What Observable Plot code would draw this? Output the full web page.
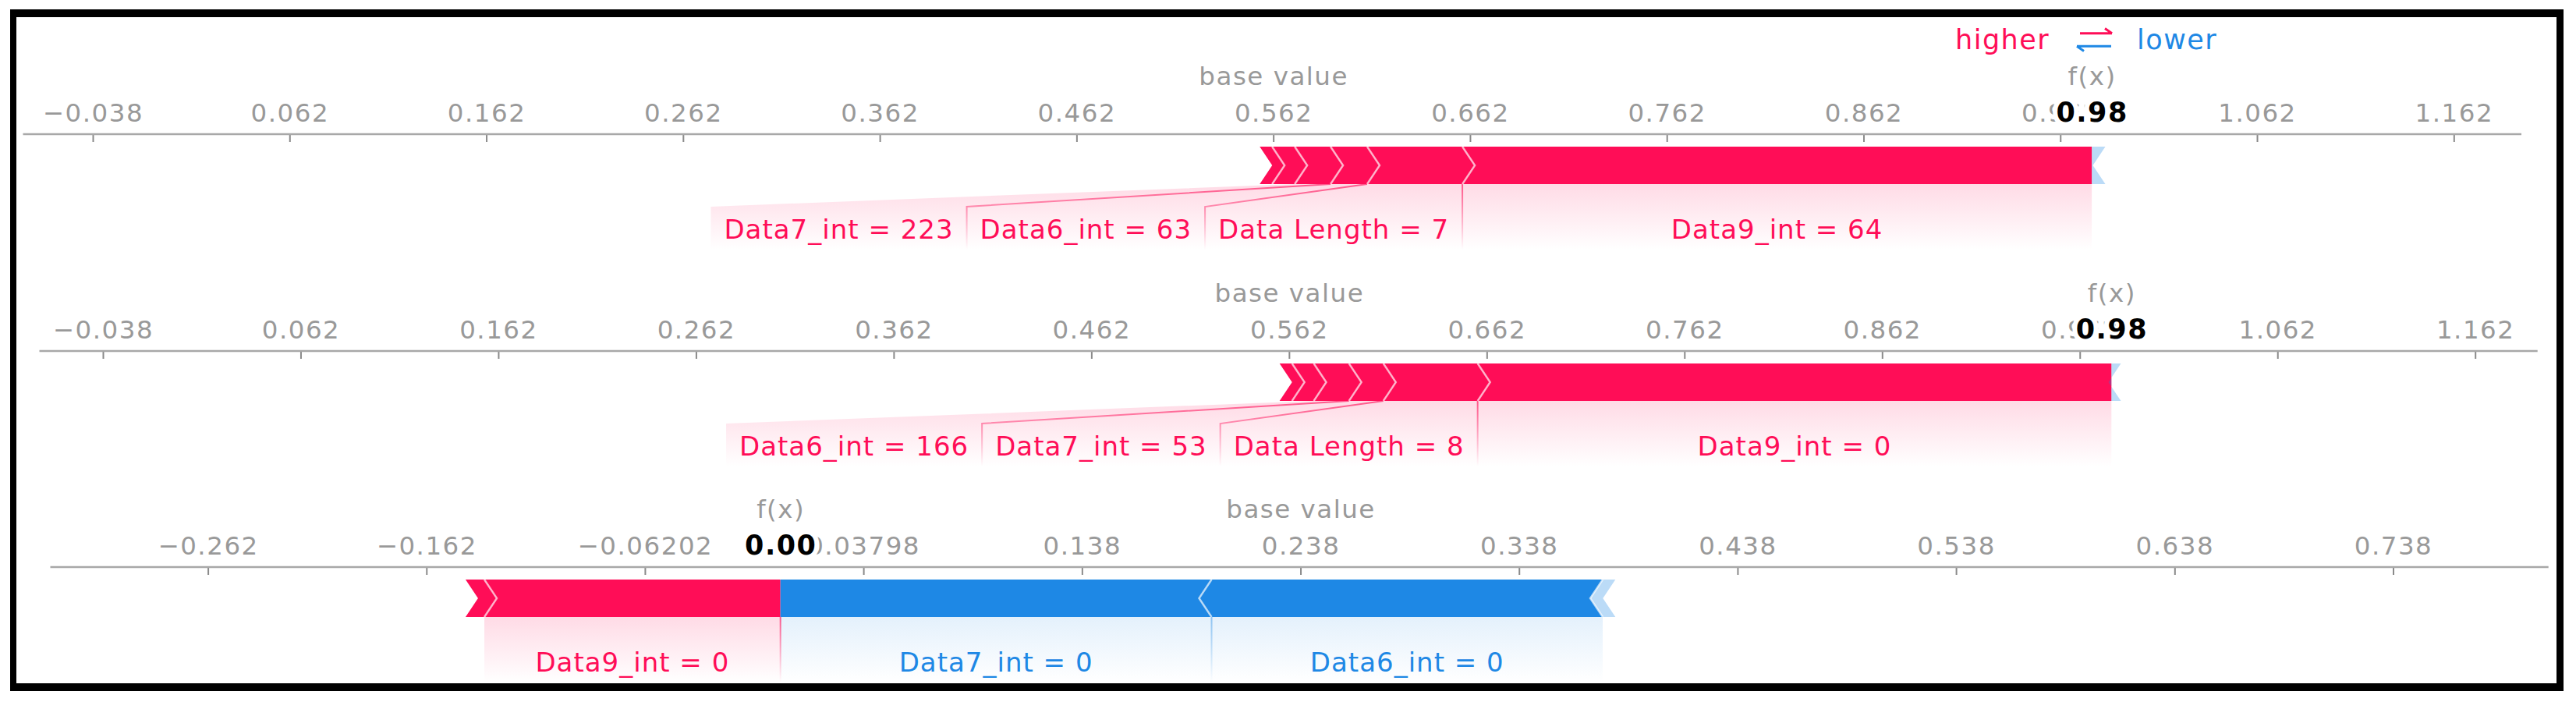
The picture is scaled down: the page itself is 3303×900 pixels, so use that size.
<!DOCTYPE html>
<html>
<head>
<meta charset="utf-8">
<script src="https://cdn.jsdelivr.net/npm/d3@7"></script>
<script src="https://cdn.jsdelivr.net/npm/@observablehq/plot@0.6"></script>
<style>
  html, body { margin: 0; padding: 0; background: #fff; }
  body { width: 3303px; height: 900px; position: relative; overflow: hidden; font-family: "DejaVu Sans"; }
  #frame { position: absolute; left: 13px; top: 12px; width: 3274px; height: 874px; box-sizing: border-box;
           border-style: solid; border-color: #000; border-width: 10px 9px 10px 8px; }
  .row { position: absolute; left: 0; width: 3303px; }
  .row svg { max-width: none; }
  #legend { position: absolute; left: 2480px; top: 20px; }
</style>
</head>
<body>
<div id="frame"></div>
<div id="rows"></div>
<svg id="legend" width="400" height="60"></svg>
<script>
// ---------------- data ----------------
const baseValues   = [0.562, 0.562, 0.238];
const outputValues = [0.978, 0.978, 0.0];
const outputLabels = ["0.98", "0.98", "0.00"];

// features pushing higher (ordered from f(x) outward)
const posNames1   = ["Data9_int = 64", "Data Length = 7", "Data6_int = 63", "Data7_int = 223", "", ""];
const posEffects1 = [0.3199, 0.0484, 0.0186, 0.0182, 0.0115, 0.0063];
const negNames1   = [""];
const negEffects1 = [0.0069];

const posNames2   = ["Data9_int = 0", "Data Length = 8", "Data7_int = 53", "Data6_int = 166", "", ""];
const posEffects2 = [0.3206, 0.0477, 0.0174, 0.0178, 0.0110, 0.0063];
const negNames2   = [""];
const negEffects2 = [0.0048];

const posNames3   = ["Data9_int = 0", ""];
const posEffects3 = [0.1355, 0.0086];
const negNames3   = ["Data7_int = 0", "Data6_int = 0", ""];
const negEffects3 = [0.1973, 0.1790, 0.0058];

const tickValues1 = [-0.038, 0.062, 0.162, 0.262, 0.362, 0.462, 0.562, 0.662, 0.762, 0.862, 0.962, 1.062, 1.162];
const tickLabels1 = ["\u22120.038", "0.062", "0.162", "0.262", "0.362", "0.462", "0.562", "0.662", "0.762", "0.862", "0.962", "1.062", "1.162"];
const tickValues2 = tickValues1;
const tickLabels2 = tickLabels1;
const tickValues3 = [-0.262, -0.162, -0.06202, 0.03798, 0.138, 0.238, 0.338, 0.438, 0.538, 0.638, 0.738];
const tickLabels3 = ["\u22120.262", "\u22120.162", "\u22120.06202", "0.03798", "0.138", "0.238", "0.338", "0.438", "0.538", "0.638", "0.738"];

const posNames = [posNames1, posNames2, posNames3];
const posEffects = [posEffects1, posEffects2, posEffects3];
const negNames = [negNames1, negNames2, negNames3];
const negEffects = [negEffects1, negEffects2, negEffects3];
const tickValues = [tickValues1, tickValues2, tickValues3];
const tickLabels = [tickLabels1, tickLabels2, tickLabels3];

// ---------------- layout / style ----------------
const PINK = "#ff0d57", BLUE = "#1e88e5";
const rowTops = [22, 300, 577];
const rowHeights = [300, 300, 310];
const rowMargins = [[29.5, 70], [50.5, 49.3], [64.5, 35.3]];
const xDomains = [[-0.07348, 1.19637], [-0.07015, 1.19356], [-0.33413, 0.80910]];
const LABEL_FS = 34, LABEL_LS = 1, PAD = 17;

const ctx = document.createElement("canvas").getContext("2d");
ctx.font = `${LABEL_FS}px "DejaVu Sans"`;
const textW = (s) => ctx.measureText(s).width + LABEL_LS * s.length;

function forceMark(r) {
  return function (index, scales, values, dims) {
    const x = scales.x;
    const T = dims.marginTop + 16, H = 48, B = T + H, M = T + H / 2;
    const BT = B + 29, END = B + 84, D = 16;
    const g = d3.create("svg:g");
    const defs = g.append("defs");
    const mkGrad = (id, color, op) => {
      const lg = defs.append("linearGradient").attr("id", id).attr("gradientUnits", "userSpaceOnUse")
        .attr("x1", 0).attr("x2", 0).attr("y1", B).attr("y2", END);
      lg.append("stop").attr("offset", 0).attr("stop-color", color).attr("stop-opacity", op);
      lg.append("stop").attr("offset", 1).attr("stop-color", color).attr("stop-opacity", 0);
    };
    mkGrad(`pf${r}`, PINK, 0.15); mkGrad(`nf${r}`, BLUE, 0.12);
    mkGrad(`pl${r}`, PINK, 0.65); mkGrad(`nl${r}`, BLUE, 0.45);

    // axis line
    g.append("line").attr("x1", dims.marginLeft).attr("x2", dims.width - dims.marginRight)
      .attr("y1", dims.marginTop).attr("y2", dims.marginTop)
      .attr("stroke", "#a8a8a8").attr("stroke-width", 2.7);

    const f = outputValues[r];
    const pos = [], neg = [];
    let c = f;
    posEffects[r].forEach((e, i) => { pos.push({i, name: posNames[r][i], a: x(c - e), b: x(c)}); c -= e; });
    c = f;
    negEffects[r].forEach((e, i) => { neg.push({i, name: negNames[r][i], a: x(c), b: x(c + e)}); c += e; });

    // label layout
    const xf = x(f);
    let last = xf;
    const posLab = pos.filter(s => s.name);
    posLab.forEach(s => {
      const w = textW(s.name) + 2 * PAD, ctr = (s.a + s.b) / 2;
      s.R = Math.min(last, Math.max(s.b, ctr + w / 2));
      s.L = Math.min(s.a, s.R - w);
      last = s.L;
    });
    last = xf;
    const negLab = neg.filter(s => s.name);
    negLab.forEach(s => {
      const w = textW(s.name) + 2 * PAD, ctr = (s.a + s.b) / 2;
      s.L = Math.max(last, Math.min(s.a, ctr - w / 2));
      s.R = Math.max(s.b, s.L + w);
      last = s.R;
    });

    const poly = (pts) => "M" + pts.map(p => p.join(",")).join("L") + "Z";
    const path = (pts) => "M" + pts.map(p => p.join(",")).join("L");

    // label regions
    [...posLab.map(s => [s, `pf${r}`]), ...negLab.map(s => [s, `nf${r}`])].forEach(([s, gid]) => {
      g.append("path").attr("d", poly([[s.a, B], [s.b, B], [s.R, BT], [s.R, END], [s.L, END], [s.L, BT]]))
        .attr("fill", `url(#${gid})`);
    });
    // label lines
    posLab.slice(0, -1).forEach(s => {
      g.append("path").attr("d", path([[s.a, B], [s.L, BT], [s.L, END]])).attr("fill", "none")
        .attr("stroke", `url(#pl${r})`).attr("stroke-width", 2);
    });
    negLab.slice(0, -1).forEach(s => {
      g.append("path").attr("d", path([[s.b, B], [s.R, BT], [s.R, END]])).attr("fill", "none")
        .attr("stroke", `url(#nl${r})`).attr("stroke-width", 2);
    });
    if (posLab.length && negLab.length) {
      g.append("rect").attr("x", xf - 1).attr("y", B).attr("width", 2).attr("height", END - B)
        .attr("fill", `url(#pl${r})`);
    }

    // bars
    pos.forEach(s => {
      const es = s.i === 0 ? 0 : D;
      g.append("path").attr("d", poly([[s.a, T], [s.b, T], [s.b + es, M], [s.b, B], [s.a, B], [s.a + D, M]]))
        .attr("fill", PINK);
    });
    neg.forEach(s => {
      const ss = s.i === 0 ? 0 : D;
      g.append("path").attr("d", poly([[s.a, T], [s.b, T], [s.b - D, M], [s.b, B], [s.a, B], [s.a - ss, M]]))
        .attr("fill", BLUE).attr("fill-opacity", s.name ? 1 : 0.3);
    });
    // separators
    pos.filter(s => s.i > 0).forEach(s => {
      g.append("path").attr("d", path([[s.b, T], [s.b + D, M], [s.b, B]])).attr("fill", "none")
        .attr("stroke", "#fff").attr("stroke-opacity", 0.65).attr("stroke-width", 2.5);
    });
    neg.filter(s => s.i > 0).forEach(s => {
      g.append("path").attr("d", path([[s.a, T], [s.a - D, M], [s.a, B]])).attr("fill", "none")
        .attr("stroke", "#fff").attr("stroke-opacity", 0.65).attr("stroke-width", 2.5);
    });
    // label texts
    [...posLab.map(s => [s, PINK]), ...negLab.map(s => [s, BLUE])].forEach(([s, col]) => {
      g.append("text").attr("x", (s.L + s.R) / 2).attr("y", dims.marginTop + 134)
        .attr("text-anchor", "middle").attr("fill", col)
        .style("font-size", LABEL_FS + "px").style("letter-spacing", LABEL_LS + "px")
        .text(s.name);
    });
    return g.node();
  };
}

const rowsDiv = document.getElementById("rows");
for (let r = 0; r < 3; r++) {
  const Hh = rowHeights[r];
  const chart = Plot.plot({
    width: 3303,
    height: Hh,
    marginLeft: rowMargins[r][0],
    marginRight: rowMargins[r][1],
    marginTop: 150,
    marginBottom: 0,
    x: {domain: xDomains[r], axis: null},
    style: {background: "transparent", overflow: "visible", fontFamily: "DejaVu Sans", letterSpacing: "1.5px", maxWidth: "none"},
    marks: [
      Plot.tickX(tickValues[r], {x: d => d, stroke: "#8a8a8a", strokeWidth: 2, insetBottom: Hh - 150 - 10}),
      Plot.text(tickValues[r], {x: d => d, text: (d, i) => tickLabels[r][i], frameAnchor: "top", lineAnchor: "bottom",
        dy: -17, fill: "#999", fontSize: 32.5}),
      Plot.text([baseValues[r]], {x: d => d, text: ["base value"], frameAnchor: "top", lineAnchor: "bottom",
        dy: -64, fill: "#999", fontSize: 32.5}),
      Plot.text([outputValues[r]], {x: d => d, text: ["f(x)"], frameAnchor: "top", lineAnchor: "bottom",
        dy: -64, fill: "#999", fontSize: 32.5}),
      Plot.text([outputValues[r]], {x: d => d, text: [outputLabels[r]], frameAnchor: "top", lineAnchor: "bottom",
        dy: -17, fill: "#000", stroke: "#fff", strokeWidth: 12, fontWeight: "bold", fontSize: 35}),
      forceMark(r)
    ]
  });
  const div = document.createElement("div");
  div.className = "row";
  div.style.top = rowTops[r] + "px";
  div.appendChild(chart);
  rowsDiv.appendChild(div);
}

// legend
const lg = d3.select("#legend");
lg.append("text").attr("x", 27).attr("y", 43.3).attr("fill", PINK)
  .style("font", '35px "DejaVu Sans"').style("letter-spacing", "1.5px").text("higher");
lg.append("text").attr("x", 260).attr("y", 43.3).attr("fill", BLUE)
  .style("font", '35px "DejaVu Sans"').style("letter-spacing", "1.5px").text("lower");
lg.append("path").attr("d", "M187,22.7L228,22.7M219,16.5L228,22.7").attr("stroke", PINK).attr("stroke-width", 3).attr("fill", "none");
lg.append("path").attr("d", "M227,39.3L183,39.3M192,45.5L183,39.3").attr("stroke", BLUE).attr("stroke-width", 3).attr("fill", "none");
</script>
</body>
</html>
